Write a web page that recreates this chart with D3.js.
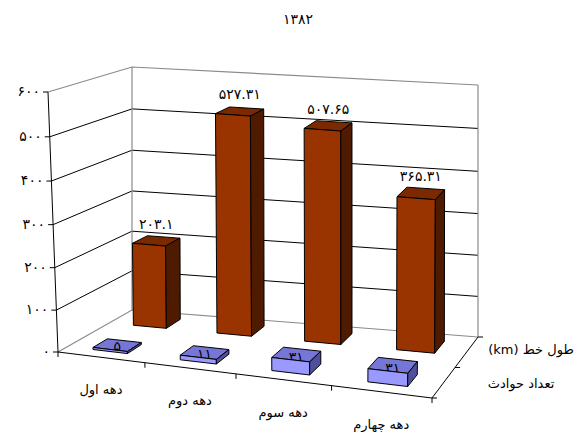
<!DOCTYPE html>
<html><head><meta charset="utf-8">
<script src="https://cdn.jsdelivr.net/npm/d3@7"></script>
<style>body{margin:0;background:#fff} svg{display:block}</style>
</head><body><svg id="c" width="582" height="432"></svg>
<script>
const title = "۱۳۸۲";
const categories = ["دهه اول", "دهه دوم", "دهه سوم", "دهه چهارم"];
const seriesNames = ["تعداد حوادث", "طول خط (km)"]; // front row, back row
const accidents = [5, 11, 31, 31];
const lineLength = [203.1, 527.31, 507.65, 365.31];
const accidentLabels = ["۵", "۱۱", "۳۱", "۳۱"];
const lengthLabels = ["۲۰۳.۱", "۵۲۷.۳۱", "۵۰۷.۶۵", "۳۶۵.۳۱"];
const yTicks = [0, 100, 200, 300, 400, 500, 600];
const yTickLabels = ["۰", "۱۰۰", "۲۰۰", "۳۰۰", "۴۰۰", "۵۰۰", "۶۰۰"];

const svg = d3.select("#c");
const FONT = "DejaVu Sans";

// scales
const vScale = d3.scaleLinear().domain([0, 600]).range([0, 1]);
const xBand = d3.scaleBand().domain(categories).range([0, 1]).paddingInner(0.6).paddingOuter(0.3);
const zBand = d3.scaleBand().domain(seriesNames).range([0.13, 0.89]).paddingInner(0.643).paddingOuter(0);

// 3D box projection (floor and top planes, perspective warp)
const F = {fl: [58, 352], fr: [432, 398], bl: [132, 310], br: [478, 337]};
const T = {fl: [48, 92], fr: [437, 130], bl: [132, 67], br: [478, 85]};
const E = -0.0918, G = -0.04;
const warpU = u => u * (1 + E) / (1 + E * u);
const warpT = t => t * (1 + G) / (1 + G * t);
function bil(Q, a, w) {
  return [0, 1].map(i => Q.fl[i] * (1 - a) * (1 - w) + Q.fr[i] * a * (1 - w) + Q.bl[i] * (1 - a) * w + Q.br[i] * a * w);
}
function P(u, w, v) {
  const a = warpU(u), t = warpT(vScale(v));
  const f = bil(F, a, w), tp = bil(T, a, w);
  return [f[0] + (tp[0] - f[0]) * t, f[1] + (tp[1] - f[1]) * t];
}
const line = d3.line();
const poly = pts => line(pts) + "Z";
function txt(sel, size, spacing) {
  return sel.attr("font-family", FONT).attr("font-size", size).attr("fill", "#000")
    .attr("letter-spacing", spacing || 0);
}

// walls and floor
const g = svg.append("g");
g.append("path").attr("d", poly([P(0,0,0), P(0,1,0), P(0,1,600), P(0,0,600)])).attr("fill", "#fff");
g.append("path").attr("d", poly([P(0,1,0), P(1,1,0), P(1,1,600), P(0,1,600)])).attr("fill", "#fff");
g.append("path").attr("d", poly([P(0,0,0), P(1,0,0), P(1,1,0), P(0,1,0)])).attr("fill", "#fff");

// gridlines
yTicks.filter(v => v > 0 && v < 600).forEach(v => {
  g.append("path").attr("d", line([P(0,0,v), P(0,1,v), P(1,1,v)]))
    .attr("fill", "none").attr("stroke", "#000").attr("stroke-width", 1);
});
// wall edges (gray)
const gray = "#8a8a8a";
[[P(0,0,600), P(0,1,600), P(1,1,600)],
 [P(0,1,0), P(0,1,600)],
 [P(1,1,0), P(1,1,600)],
 [P(0,0,0), P(0,1,0), P(1,1,0)]].forEach(pts => {
  g.append("path").attr("d", line(pts)).attr("fill", "none").attr("stroke", gray).attr("stroke-width", 1.2);
});
// axes (black)
[[P(0,0,0), P(0,0,600)], [P(0,0,0), P(1,0,0)], [P(1,0,0), P(1,1,0)]].forEach(pts => {
  g.append("path").attr("d", line(pts)).attr("fill", "none").attr("stroke", "#000").attr("stroke-width", 1);
});

// value axis ticks and labels
yTicks.forEach((v, i) => {
  const p = P(0, 0, v);
  g.append("line").attr("x1", p[0] - 5).attr("x2", p[0]).attr("y1", p[1]).attr("y2", p[1]).attr("stroke", "#000");
  txt(g.append("text"), 14, 2).attr("x", p[0] - 8).attr("y", p[1]).attr("dy", "0.3em")
    .attr("text-anchor", "end").text(yTickLabels[i]);
});

// category ticks and labels
const bounds = categories.map(c => xBand(c) - xBand.step() * xBand.paddingInner() / 2).concat([1]);
bounds.forEach(u => {
  const p = P(Math.max(0, u), 0, 0);
  g.append("line").attr("x1", p[0]).attr("x2", p[0]).attr("y1", p[1]).attr("y2", p[1] + 5).attr("stroke", "#000");
});
categories.forEach(c => {
  const p = P(xBand(c) + xBand.bandwidth() / 2, 0, 0);
  txt(g.append("text"), 13).attr("x", p[0]).attr("y", p[1] + 37).attr("text-anchor", "middle").text(c);
});

// depth axis ticks and labels
[0, 0.5, 1].forEach(w => {
  const p = P(1, w, 0);
  g.append("line").attr("x1", p[0]).attr("x2", p[0] + 5).attr("y1", p[1]).attr("y2", p[1]).attr("stroke", "#000");
});
const seriesLabelX = [521, 531];
seriesNames.forEach((s, i) => {
  const p = P(1, zBand(s) + zBand.bandwidth() / 2, 0);
  txt(g.append("text"), 13).attr("x", seriesLabelX[i]).attr("y", p[1] + 4).attr("direction", "rtl")
    .attr("text-anchor", "middle").text(s);
});

// bars
const seriesDefs = [
  {name: seriesNames[1], values: lineLength, labels: lengthLabels, front: "#993300", top: "#7a2900", side: "#4f1b00", above: true},
  {name: seriesNames[0], values: accidents, labels: accidentLabels, front: "#9999ff", top: "#7676d6", side: "#4f4f9c", above: false}
];
seriesDefs.forEach(sd => {
  const w0 = zBand(sd.name), w1 = w0 + zBand.bandwidth();
  categories.forEach((c, i) => {
    const v = sd.values[i];
    const u0 = xBand(c), u1 = u0 + xBand.bandwidth(), uc = (u0 + u1) / 2;
    const bg = g.append("g").attr("stroke", "#000").attr("stroke-width", 1).attr("stroke-linejoin", "round");
    bg.append("path").attr("d", poly([P(u0,w0,v), P(u1,w0,v), P(u1,w1,v), P(u0,w1,v)])).attr("fill", sd.top);
    if (!sd.above) {
      const pc = P(uc, (w0 + w1) / 2, v), pf = P(uc, w0, v);
      txt(g.append("text"), 14, 1).attr("x", pc[0]).attr("y", pf[1] + 2).attr("text-anchor", "middle")
        .text(sd.labels[i]);
    }
    const fg = g.append("g").attr("stroke", "#000").attr("stroke-width", 1).attr("stroke-linejoin", "round");
    fg.append("path").attr("d", poly([P(u0,w0,0), P(u1,w0,0), P(u1,w0,v), P(u0,w0,v)])).attr("fill", sd.front);
    fg.append("path").attr("d", poly([P(u1,w0,0), P(u1,w1,0), P(u1,w1,v), P(u1,w0,v)])).attr("fill", sd.side);
    if (sd.above) {
      const pc = P(uc, (w0 + w1) / 2, v);
      txt(g.append("text"), 14, 2).attr("x", pc[0]).attr("y", pc[1] - 12).attr("text-anchor", "middle")
        .text(sd.labels[i]);
    }
  });
});

// title
txt(svg.append("text"), 14, 2).attr("x", 298).attr("y", 24).attr("text-anchor", "middle").text(title);
</script>
</body></html>
